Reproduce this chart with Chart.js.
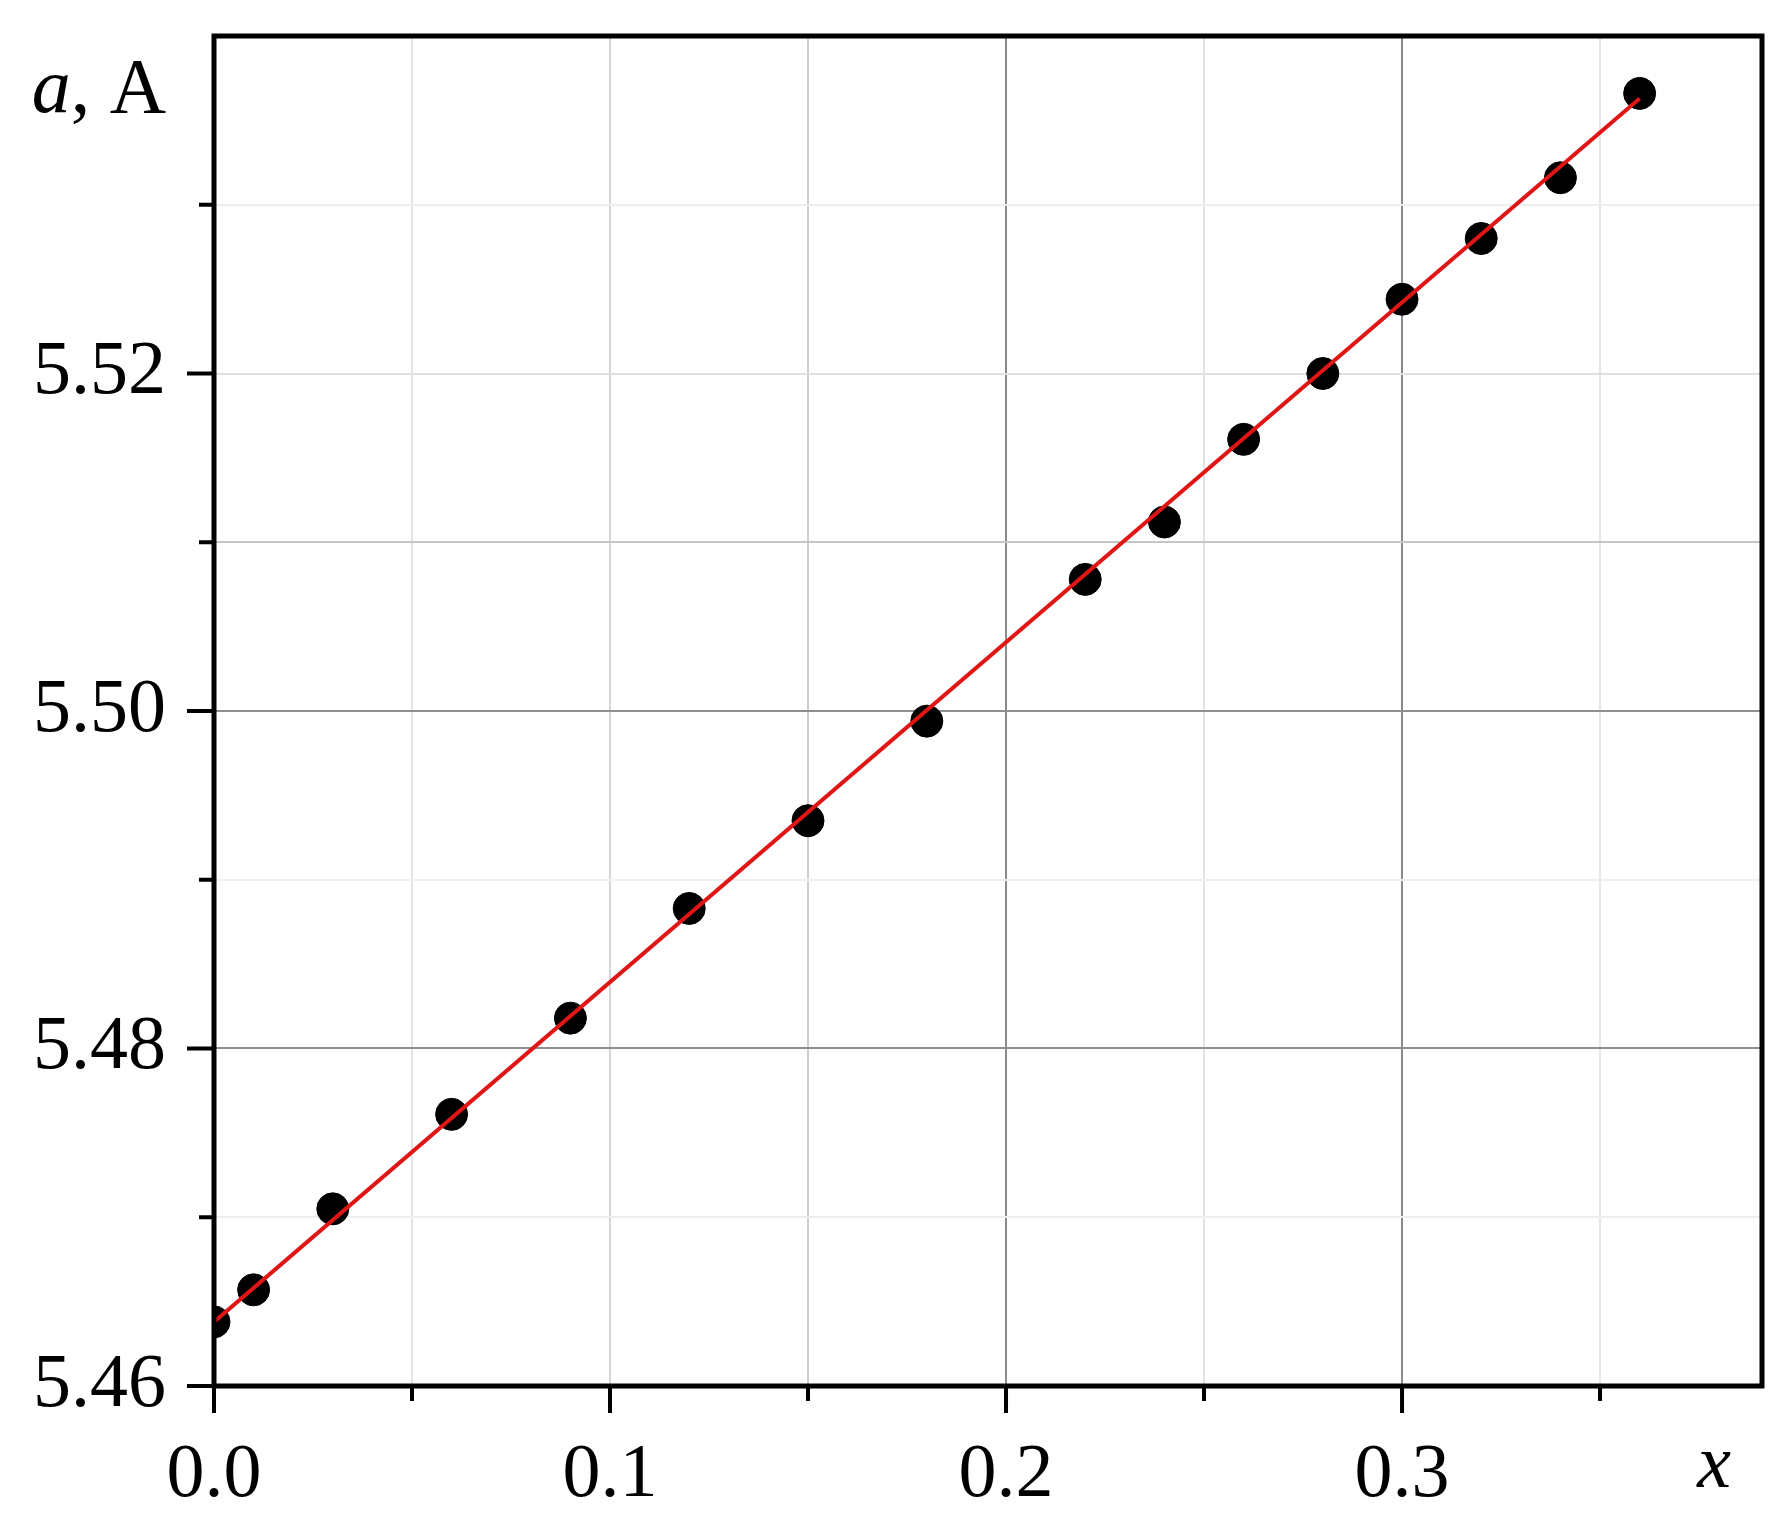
<!DOCTYPE html>
<html>
<head>
<meta charset="utf-8">
<script src="https://cdn.jsdelivr.net/npm/chart.js@4/dist/chart.umd.min.js"></script>
<style>
  html, body { margin:0; padding:0; background:#fff; }
  #wrap { width:1792px; height:1524px; }
</style>
</head>
<body>
<div id="wrap"><canvas id="chart" width="1792" height="1524"></canvas></div>
<script>
// measured points
const xs = [0, 0.01, 0.03, 0.06, 0.09, 0.12, 0.15, 0.18, 0.22, 0.24, 0.26, 0.28, 0.30, 0.32, 0.34, 0.36];
const aVals = [5.4638, 5.4657, 5.4705, 5.4761, 5.4818, 5.4883, 5.4935, 5.4994, 5.5078, 5.5112, 5.5161, 5.5200, 5.5244, 5.5280, 5.5316, 5.5366];
// fitted line ends
const fitX = [0, 0.36];
const fitY = [5.4638, 5.5363];
// ticks
const xMajor = [0, 0.1, 0.2, 0.3];
const xMinor = [0.05, 0.15, 0.25, 0.35];
const yMajor = [5.46, 5.48, 5.50, 5.52];
const yMinor = [5.47, 5.49, 5.51, 5.53];
const xLabels = ['0.0', '0.1', '0.2', '0.3'];
const yLabels = ['5.46', '5.48', '5.50', '5.52'];

const FONT = '"Liberation Serif", "Times New Roman", serif';
const near = (a, b) => Math.abs(a - b) < 1e-6;

// grid shades as they look in the scan
const xGridCol = {'0.05':'#e4e4e4','0.1':'#d6d6d6','0.15':'#cfcfcf','0.2':'#8c8c8c','0.25':'#e2e2e2','0.3':'#8c8c8c','0.35':'#e6e6e6'};
const yGridCol = {'5.47':'#eeeeee','5.48':'#8f8f8f','5.49':'#f0f0f0','5.5':'#8f8f8f','5.51':'#c6c6c6','5.52':'#e0e0e0','5.53':'#eeeeee'};

const frame = {
  id: 'frame',
  afterDatasetsDraw(chart){
    const {ctx, chartArea:a, scales:{x, y}} = chart;
    ctx.save();
    ctx.strokeStyle = '#000';
    // ticks, outward
    ctx.lineWidth = 4;
    ctx.beginPath();
    xMajor.forEach(v=>{ const p = x.getPixelForValue(v); ctx.moveTo(p, a.bottom); ctx.lineTo(p, a.bottom + 27); });
    xMinor.forEach(v=>{ const p = x.getPixelForValue(v); ctx.moveTo(p, a.bottom); ctx.lineTo(p, a.bottom + 15); });
    yMajor.forEach(v=>{ const p = y.getPixelForValue(v); ctx.moveTo(a.left, p); ctx.lineTo(a.left - 27, p); });
    yMinor.forEach(v=>{ const p = y.getPixelForValue(v); ctx.moveTo(a.left, p); ctx.lineTo(a.left - 15, p); });
    ctx.stroke();
    // box
    ctx.lineWidth = 5;
    ctx.strokeRect(a.left, a.top, a.right - a.left, a.bottom - a.top);
    // axis names
    ctx.fillStyle = '#000';
    ctx.textBaseline = 'alphabetic';
    ctx.font = '78px ' + FONT;
    ctx.textAlign = 'right';
    const rest = ', A';
    ctx.fillText(rest, 166, 112);
    const w = ctx.measureText(rest).width;
    ctx.font = 'italic 78px ' + FONT;
    ctx.fillText('a', 166 - w, 112);
    ctx.textAlign = 'center';
    ctx.font = 'italic 76px ' + FONT;
    ctx.fillText('x', 1714, 1487);
    ctx.restore();
  }
};

new Chart(document.getElementById('chart').getContext('2d'), {
  type: 'scatter',
  data: {
    datasets: [
      { type:'line', data: fitX.map((v,i)=>({x:v, y:fitY[i]})), borderColor:'#e01515', borderWidth:4,
        pointRadius:0, fill:false, order:0 },
      { data: xs.map((v,i)=>({x:v, y:aVals[i]})), backgroundColor:'#000', borderColor:'#000',
        pointRadius:16, pointHoverRadius:16, order:1 }
    ]
  },
  plugins: [frame],
  options: {
    responsive:false, animation:false, events:[],
    layout: { padding: { top:36, right:30, left:0, bottom:0 } },
    plugins: { legend:{display:false}, tooltip:{enabled:false} },
    scales: {
      x: {
        type:'linear', min:0, max:0.3909,
        afterBuildTicks: s => { s.ticks = [...xMajor, ...xMinor].sort((a,b)=>a-b).map(v=>({value:v})); },
        afterFit: s => { s.height = 138; s.paddingLeft = 0; s.paddingRight = 0; },
        border: { display:false },
        grid: { drawTicks:false, lineWidth:2,
          color: c => (c.tick && !near(c.tick.value,0)) ? (xGridCol[String(+c.tick.value.toFixed(2))] || '#e0e0e0') : 'rgba(0,0,0,0)' },
        ticks: { padding:44, color:'#000', maxRotation:0, autoSkip:false,
          font:{ family:FONT, size:76 },
          callback: v => { const i = xMajor.findIndex(m=>near(m,v)); return i >= 0 ? xLabels[i] : ''; } }
      },
      y: {
        type:'linear', min:5.46, max:5.54,
        afterBuildTicks: s => { s.ticks = [...yMajor, ...yMinor].sort((a,b)=>a-b).map(v=>({value:v})); },
        afterFit: s => { s.width = 214; s.paddingTop = 0; s.paddingBottom = 0; },
        border: { display:false },
        grid: { drawTicks:false, lineWidth:2,
          color: c => (c.tick && !near(c.tick.value,5.46)) ? (yGridCol[String(+c.tick.value.toFixed(2))] || '#e0e0e0') : 'rgba(0,0,0,0)' },
        ticks: { padding:48, color:'#000', autoSkip:false,
          font:{ family:FONT, size:76 },
          callback: v => { const i = yMajor.findIndex(m=>near(m,v)); return i >= 0 ? yLabels[i] : ''; } }
      }
    }
  }
});
</script>
</body>
</html>
